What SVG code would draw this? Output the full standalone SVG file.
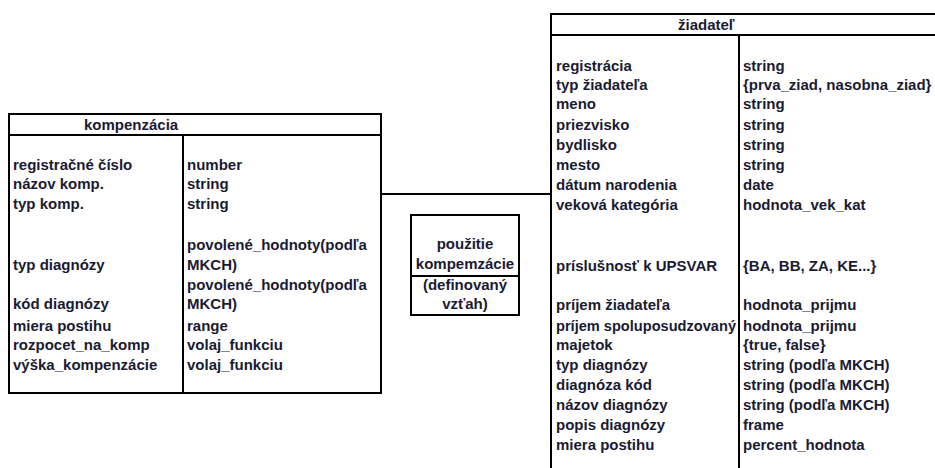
<svg xmlns="http://www.w3.org/2000/svg" width="935" height="468" viewBox="0 0 935 468">
  <style>
    .box { fill: #ffffff; stroke: #000000; stroke-width: 2; }
    .rule { stroke: #000000; stroke-width: 2; fill: none; }
    text { font-family: "Liberation Sans", Arial, sans-serif; font-size: 15px; font-weight: bold; fill: #1a1a33; }
    .mid { text-anchor: middle; }
  </style>

  <rect width="935" height="468" fill="#ffffff"/>

  <!-- connectors -->
  <g id="connectors">
    <line class="rule" x1="381" y1="194" x2="551" y2="194"/>
  </g>

  <!-- entity: kompenzácia -->
  <g id="kompenzacia">
    <rect class="box" x="9" y="114" width="372" height="279"/>
    <line class="rule" x1="9" y1="135" x2="381" y2="135"/>
    <line class="rule" x1="183" y1="135" x2="183" y2="393"/>
    <text x="84" y="130">kompenzácia</text>
    <text x="13" y="170">registračné číslo</text>
    <text x="13" y="189">názov komp.</text>
    <text x="13" y="209">typ komp.</text>
    <text x="13" y="270">typ diagnózy</text>
    <text x="13" y="309">kód diagnózy</text>
    <text x="13" y="331">miera postihu</text>
    <text x="13" y="350">rozpocet_na_komp</text>
    <text x="13" y="370">výška_kompenzácie</text>
    <text x="187" y="170">number</text>
    <text x="187" y="189">string</text>
    <text x="187" y="209">string</text>
    <text x="187" y="250">povolené_hodnoty(podľa</text>
    <text x="187" y="270">MKCH)</text>
    <text x="187" y="290">povolené_hodnoty(podľa</text>
    <text x="187" y="309">MKCH)</text>
    <text x="187" y="331">range</text>
    <text x="187" y="350">volaj_funkciu</text>
    <text x="187" y="370">volaj_funkciu</text>
  </g>

  <!-- relationship: použitie kompenzácie -->
  <g id="pouzitie">
    <rect class="box" x="411" y="215" width="108" height="100"/>
    <line class="rule" x1="411" y1="276" x2="519" y2="276"/>
    <text class="mid" x="465" y="249">použitie</text>
    <text class="mid" x="465" y="269">kompemzácie</text>
    <text class="mid" x="465" y="290">(definovaný</text>
    <text class="mid" x="465" y="309">vzťah)</text>
  </g>

  <!-- entity: žiadateľ -->
  <g id="ziadatel">
    <rect class="box" x="551" y="14" width="400" height="470"/>
    <line class="rule" x1="551" y1="35" x2="951" y2="35"/>
    <line class="rule" x1="739" y1="35" x2="739" y2="484"/>
    <text x="678" y="30">žiadateľ</text>
    <text x="556" y="71">registrácia</text>
    <text x="556" y="90">typ žiadateľa</text>
    <text x="556" y="109">meno</text>
    <text x="556" y="130">priezvisko</text>
    <text x="556" y="150">bydlisko</text>
    <text x="556" y="170">mesto</text>
    <text x="556" y="190">dátum narodenia</text>
    <text x="556" y="210">veková kategória</text>
    <text x="556" y="271">príslušnosť k UPSVAR</text>
    <text x="556" y="310">príjem žiadateľa</text>
    <text x="556" y="331" textLength="180" lengthAdjust="spacingAndGlyphs">príjem spoluposudzovaný</text>
    <text x="556" y="350">majetok</text>
    <text x="556" y="370">typ diagnózy</text>
    <text x="556" y="390">diagnóza kód</text>
    <text x="556" y="410">názov diagnózy</text>
    <text x="556" y="430">popis diagnózy</text>
    <text x="556" y="450">miera postihu</text>
    <text x="743" y="71">string</text>
    <text x="743" y="90">{prva_ziad, nasobna_ziad}</text>
    <text x="743" y="109">string</text>
    <text x="743" y="130">string</text>
    <text x="743" y="150">string</text>
    <text x="743" y="170">string</text>
    <text x="743" y="190">date</text>
    <text x="743" y="210">hodnota_vek_kat</text>
    <text x="743" y="271">{BA, BB, ZA, KE...}</text>
    <text x="743" y="310">hodnota_prijmu</text>
    <text x="743" y="331">hodnota_prijmu</text>
    <text x="743" y="350">{true, false}</text>
    <text x="743" y="370">string (podľa MKCH)</text>
    <text x="743" y="390">string (podľa MKCH)</text>
    <text x="743" y="410">string (podľa MKCH)</text>
    <text x="743" y="430">frame</text>
    <text x="743" y="450">percent_hodnota</text>
  </g>
</svg>
